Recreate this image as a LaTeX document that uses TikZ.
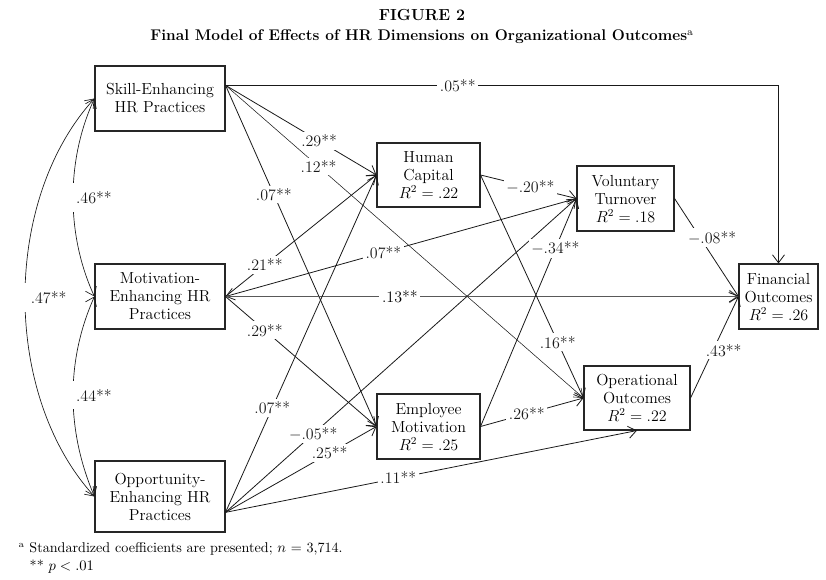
\documentclass[tikz,border=0pt]{standalone}
\usepackage{amsmath}
\usepackage{tikz}
\usetikzlibrary{arrows.meta,calc}

\begin{document}
\begin{tikzpicture}[x=0.75pt, y=-0.75pt,
    >={Straight Barb[length=6pt,width=9pt]},
    box/.style={draw=black!85, line width=0.8pt, align=center, inner sep=2pt,
        font=\fontsize{12}{13.5}\selectfont},
    hrbox/.style={box, minimum width=97.5pt, minimum height=48.75pt},
    coef/.style={fill=white, inner sep=2pt, font=\fontsize{12}{14}\selectfont},
    eff/.style={->, black!90, line width=0.6pt},
    corr/.style={<->, black!90, line width=0.5pt}]
    \useasboundingbox (0,0) rectangle (826,580);

    % antraste
    \node[font=\fontsize{12}{14}\selectfont\bfseries] (fig) at (422,15) {FIGURE 2};
    \node[font=\fontsize{11.6}{13}\selectfont\bfseries] (title) at (422,37)
        {Final Model of Effects of HR Dimensions on Organizational Outcomes$^{\mathrm{a}}$};

    % HR dimensijos
    \node[hrbox] (skill) at (160,98.5) {Skill-Enhancing\\HR Practices};
    \node[hrbox] (motiv) at (160,296.5) {Motivation-\\Enhancing HR\\Practices};
    \node[hrbox, minimum height=53.25pt] (oppor) at (160,496.5) {Opportunity-\\Enhancing HR\\Practices};

    % tarpiniai ir galutiniai
    \node[box, minimum width=77.25pt, minimum height=48pt] (hc) at (428.5,175) {Human\\Capital\\$R^2 = .22$};
    \node[box, minimum width=77.25pt, minimum height=48.75pt] (em) at (428.5,426.5) {Employee\\Motivation\\$R^2 = .25$};
    \node[box, minimum width=72.75pt, minimum height=48.75pt] (vt) at (625.5,198.5) {Voluntary\\Turnover\\$R^2 = .18$};
    \node[box, minimum width=79.5pt, minimum height=48pt] (op) at (637,398) {Operational\\Outcomes\\$R^2 = .22$};
    \node[box, minimum width=59.25pt, minimum height=48.75pt] (fin) at (778.5,296.5) {Financial\\Outcomes\\$R^2 = .26$};

    \coordinate (sOut) at ($(skill.north east)!0.3!(skill.south east)$);
    \coordinate (oOut) at ($(oppor.north east)!0.72!(oppor.south east)$);

    % koreliacijos
    \draw[corr] (skill.west) .. controls (66,160) and (66,235) ..
        node[coef, anchor=west, xshift=-4pt, inner xsep=6pt, inner ysep=6pt] {.46**} (motiv.west);
    \draw[corr] (motiv.west) .. controls (66,360) and (66,430) ..
        node[coef, anchor=west, xshift=-4pt, inner xsep=6pt, inner ysep=6pt] {.44**} (oppor.west);
    \draw[corr] (skill.west) .. controls (2,200) and (2,395) ..
        node[coef, anchor=west, xshift=-3pt, inner xsep=7pt, inner ysep=6pt] {.47**} (oppor.west);

    % efektai
    \draw[eff] (sOut) -| node[coef, pos=0.21] {.05**} (fin.north);
    \draw[eff] (sOut) -- node[coef, pos=0.62] {.29**} (hc.west);
    \draw[eff, line width=0.4pt] (sOut) -- node[coef, pos=0.26] {.12**} (op.west);
    \draw[eff] (sOut) -- node[coef, pos=0.32] {.07**} (em.west);
    \draw[eff] (motiv.east) -- node[coef, pos=0.26] {.21**} (hc.west);
    \draw[eff] (vt.west) -- node[coef, pos=0.55] {.07**} (motiv.east);
    \draw[eff, black!65, line width=1pt] (motiv.east) -- node[coef, pos=0.34, text=black] {.13**} (fin.west);
    \draw[eff] (motiv.east) -- node[coef, pos=0.26] {.29**} (em.west);
    \draw[eff] (oOut) -- node[coef, pos=0.31] {.07**} (hc.west);
    \draw[eff] (oOut) -- node[coef, pos=0.25] {$-$.05**} (vt.west);
    \draw[eff] (oOut) -- node[coef, pos=0.69] {.25**} (em.west);
    \draw[eff] (oOut) -- node[coef, pos=0.42] {.11**} (op.south);
    \draw[eff] (hc.east) -- node[coef, pos=0.52] {$-$.20**} (vt.west);
    \draw[eff] (hc.east) -- node[coef, pos=0.75] {.16**} (op.west);
    \draw[eff] (em.east) -- node[coef, pos=0.78] {$-$.34**} (vt.west);
    \draw[eff] (em.east) -- node[coef, pos=0.45] {.26**} (op.west);
    \draw[eff] (vt.east) -- node[coef, pos=0.4, xshift=9pt] {$-$.08**} (fin.west);
    \draw[eff] (op.east) -- node[coef, pos=0.47, xshift=8pt] {.43**} (fin.west);

    % pastabos
    \node[anchor=west, font=\fontsize{10.6}{12}\selectfont] (note1) at (14,549)
        {$^{\mathrm{a}}$ Standardized coefficients are presented; $n$ = 3,714.};
    \node[anchor=west, font=\fontsize{10.6}{12}\selectfont] (note2) at (25,567) {** $p<.01$};
\end{tikzpicture}
\end{document}
